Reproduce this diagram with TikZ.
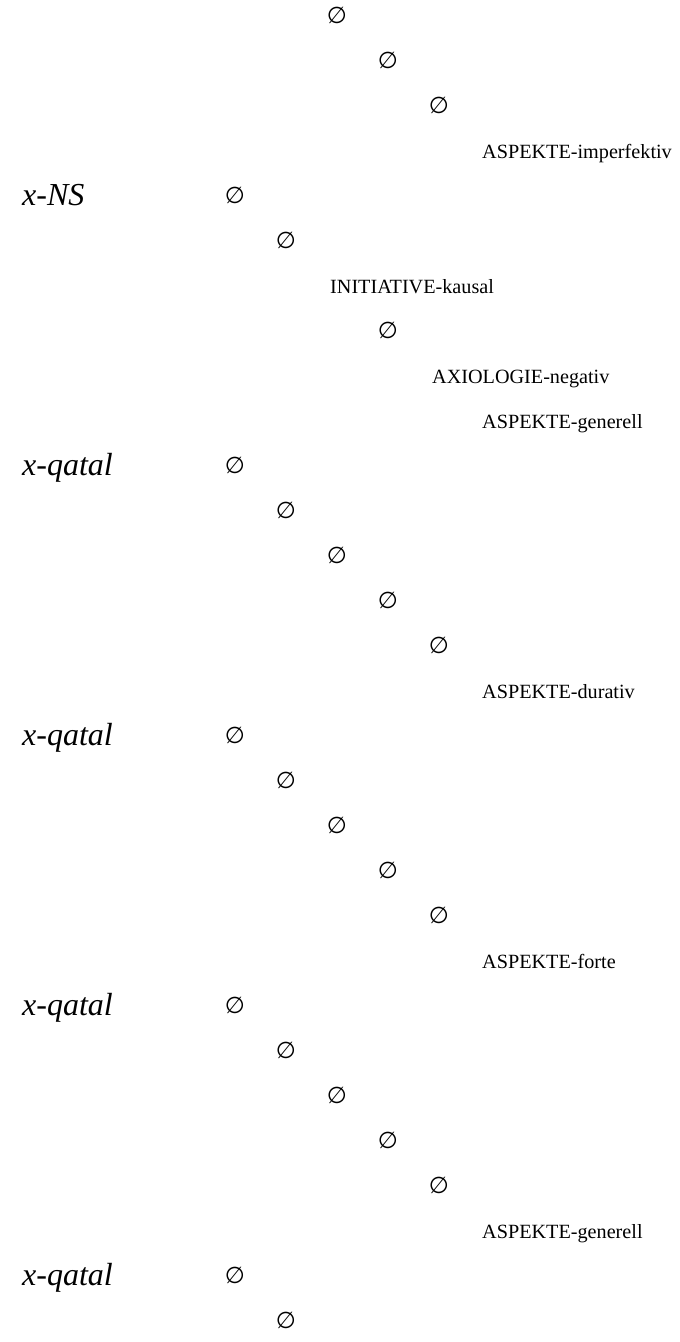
\documentclass[tikz,border=0pt]{standalone}
\usepackage{fontspec}
\setmainfont{Liberation Serif}
\newfontfamily\symfont{DejaVu Sans}
\begin{document}
\begin{tikzpicture}[x=1pt,y=-1pt,
  lbl/.style={anchor=base west,inner sep=0pt,font=\fontsize{20.2}{22}\selectfont},
  big/.style={anchor=base west,inner sep=0pt,font=\fontsize{32}{34}\itshape\selectfont},
  nul/.style={anchor=center,inner sep=0pt,font=\symfont\fontsize{23}{25}\selectfont}]
\useasboundingbox (0,0) rectangle (680,1342);
% level k center x = 235 + 51k ; row i center y = 15 + 45 i
\node[nul] (r0) at (337,15) {∅};
\node[nul] (r1) at (388,60) {∅};
\node[nul] (r2) at (439,105) {∅};
\node[lbl] (r3) at (482,158) {ASPEKTE-imperfektiv};
\node[big] (h1) at (22,205) {x-NS};
\node[nul] (r4) at (235,195) {∅};
\node[nul] (r5) at (286,240) {∅};
\node[lbl] (r6) at (330,293) {INITIATIVE-kausal};
\node[nul] (r7) at (388,330) {∅};
\node[lbl] (r8) at (432,383) {AXIOLOGIE-negativ};
\node[lbl] (r9) at (482,428) {ASPEKTE-generell};
\node[big] (h2) at (22,475) {x-qatal};
\node[nul] (r10) at (235,465) {∅};
\node[nul] (r11) at (286,510) {∅};
\node[nul] (r12) at (337,555) {∅};
\node[nul] (r13) at (388,600) {∅};
\node[nul] (r14) at (439,645) {∅};
\node[lbl] (r15) at (482,698) {ASPEKTE-durativ};
\node[big] (h3) at (22,745) {x-qatal};
\node[nul] (r16) at (235,735) {∅};
\node[nul] (r17) at (286,780) {∅};
\node[nul] (r18) at (337,825) {∅};
\node[nul] (r19) at (388,870) {∅};
\node[nul] (r20) at (439,915) {∅};
\node[lbl] (r21) at (482,968) {ASPEKTE-forte};
\node[big] (h4) at (22,1015) {x-qatal};
\node[nul] (r22) at (235,1005) {∅};
\node[nul] (r23) at (286,1050) {∅};
\node[nul] (r24) at (337,1095) {∅};
\node[nul] (r25) at (388,1140) {∅};
\node[nul] (r26) at (439,1185) {∅};
\node[lbl] (r27) at (482,1238) {ASPEKTE-generell};
\node[big] (h5) at (22,1285) {x-qatal};
\node[nul] (r28) at (235,1275) {∅};
\node[nul] (r29) at (286,1320) {∅};
\end{tikzpicture}
\end{document}
